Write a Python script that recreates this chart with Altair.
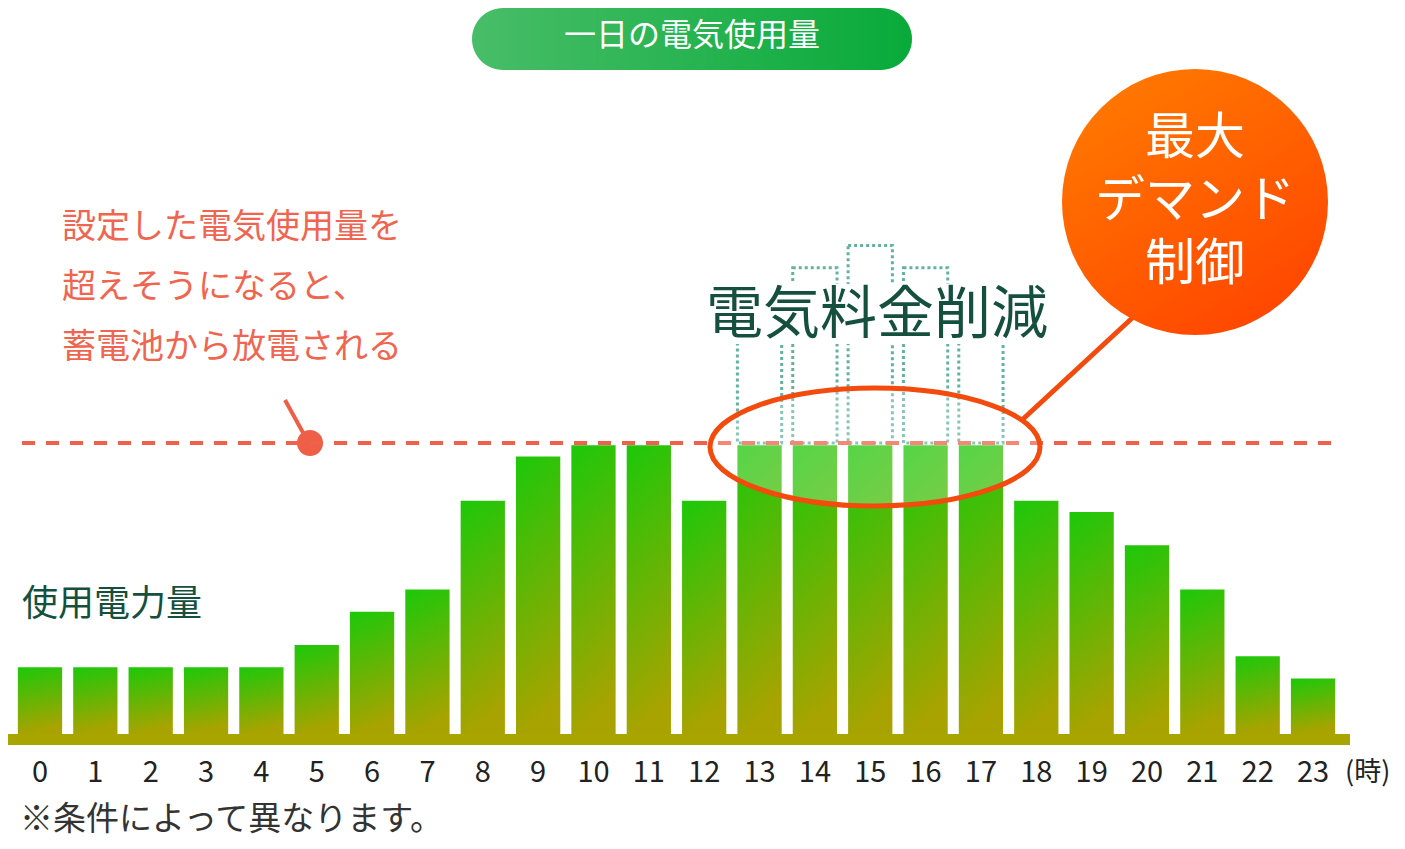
import pandas as pd
import altair as alt

# 時間帯ごとの使用電力量（制御後）
hours = list(range(24))
usage = [6, 6, 6, 6, 6, 8, 11, 13, 21, 25, 26, 26, 21, 26, 26, 26, 26, 26, 21, 20, 17, 13, 7, 5]

# 制御しなかった場合のピーク
peak_hours = [13, 14, 15, 16, 17]
peak_usage = [37, 42, 44, 42, 37]
demand_limit = 26.2

title_text = "一日の電気使用量"
note_lines = ["設定した電気使用量を", "超えそうになると、", "蓄電池から放電される"]
badge_lines = ["最大", "デマンド", "制御"]
saving_text = "電気料金削減"
y_label = "使用電力量"
unit_label = "(時)"
footnote = "※条件によって異なります。"

FONT = "Noto Sans CJK JP"
x_scale = alt.Scale(domain=[-0.578, 24.517], nice=False, zero=False)
y_scale = alt.Scale(domain=[-9.65, 65.4], nice=False, zero=False)

df = pd.DataFrame({"hour": hours, "usage": usage})
df_peak = pd.DataFrame({"hour": peak_hours, "peak": peak_usage, "limit": demand_limit})
one = pd.DataFrame({"k": [0]})

bar_fill = alt.LinearGradient(
    gradient="linear",
    stops=[alt.GradientStop(color="#1cc80a", offset=0), alt.GradientStop(color="#a8a300", offset=1)],
    x1=0, x2=0.15, y1=0, y2=1,
)
pill_fill = alt.LinearGradient(
    gradient="linear",
    stops=[alt.GradientStop(color="#48bd68", offset=0), alt.GradientStop(color="#08aa3a", offset=1)],
    x1=0, x2=1, y1=0, y2=0,
)
badge_fill = alt.LinearGradient(
    gradient="linear",
    stops=[alt.GradientStop(color="#ff7a00", offset=0), alt.GradientStop(color="#ff4400", offset=1)],
    x1=0.2, x2=0.8, y1=0, y2=1,
)

base = alt.Chart(df)


def label(text, x, y, size, color, align="left"):
    return alt.Chart(one).mark_text(
        text=text, font=FONT, fontSize=size, color=color, align=align, baseline="middle"
    ).encode(x=alt.value(x), y=alt.value(y))


# title pill
pill = alt.Chart(one).mark_rect(cornerRadius=31, color=pill_fill).encode(
    x=alt.value(464), x2=alt.value(904), y=alt.value(0), y2=alt.value(62)
)
pill_text = label(title_text, 684, 28, 32, "white", "center")

# annotation (left)
notes = [label(t, 54, 220 + 60 * i, 34, "#f0654f") for i, t in enumerate(note_lines)]
pointer = alt.Chart(one).mark_rule(color="#ef5f48", strokeWidth=4).encode(
    x=alt.value(277), x2=alt.value(298), y=alt.value(392), y2=alt.value(430)
)
pointer_dot = alt.Chart(one).mark_circle(size=676, color="#ef5f48", opacity=1).encode(
    x=alt.value(302), y=alt.value(435)
)

# dotted outlines of the uncontrolled peak
peaks = alt.Chart(df_peak).mark_bar(
    fillOpacity=0, stroke="#62b2a0", strokeWidth=3, strokeDash=[3, 3]
).transform_calculate(x0="datum.hour - 0.4", x1="datum.hour + 0.4").encode(
    x=alt.X("x0:Q", scale=x_scale, axis=None), x2="x1:Q",
    y=alt.Y("peak:Q", scale=y_scale, axis=None), y2="limit:Q",
)

saving_bg = alt.Chart(one).mark_rect(color="white").encode(
    x=alt.value(692), x2=alt.value(1047), y=alt.value(276), y2=alt.value(336)
)
saving = label(saving_text, 869, 308, 57, "#15503f", "center")

# usage bars
bars = base.mark_bar(color=bar_fill).transform_calculate(
    x0="datum.hour - 0.4", x1="datum.hour + 0.4"
).encode(
    x=alt.X("x0:Q", scale=x_scale, axis=None), x2="x1:Q",
    y=alt.Y("usage:Q", scale=y_scale, axis=None), y2=alt.datum(0),
)

baseline = alt.Chart(one).mark_rect(color="#a9a500").encode(
    x=alt.value(0), x2=alt.value(1342),
    y=alt.Y(datum=0, scale=y_scale, axis=None), y2=alt.datum(-1),
)

limit_line = alt.Chart(one).mark_rule(color="#f0604a", strokeWidth=4, strokeDash=[13, 11]).encode(
    x=alt.value(14), x2=alt.value(1327), y=alt.Y(datum=demand_limit, scale=y_scale, axis=None)
)

ellipse_path = "M-1,0 A1,0.3576 0 1,1 1,0 A1,0.3576 0 1,1 -1,0 Z"
ellipse = alt.Chart(one).mark_point(
    shape=ellipse_path, size=108900, fill="#ffffff", fillOpacity=0.25,
    stroke="#f24b0d", strokeWidth=5, strokeOpacity=1, opacity=1,
).encode(x=alt.value(867), y=alt.value(439))

connector = alt.Chart(one).mark_rule(color="#f24b0d", strokeWidth=5).encode(
    x=alt.value(1014), x2=alt.value(1135), y=alt.value(412), y2=alt.value(300)
)
badge = alt.Chart(one).mark_circle(size=70756, color=badge_fill, opacity=1).encode(
    x=alt.value(1187), y=alt.value(194)
)
badge_texts = [label(t, 1187, 131 + 63 * i, 50, "white", "center") for i, t in enumerate(badge_lines)]

# labels
hour_labels = base.mark_text(font=FONT, fontSize=29, color="#222222", baseline="middle").encode(
    x=alt.X("hour:Q", scale=x_scale, axis=None), y=alt.value(765), text="hour:N"
)
unit = label(unit_label, 1337, 765, 27, "#222222")
usage_label = label(y_label, 14, 597, 36, "#15503f")
note_bottom = label(footnote, 12, 812, 33, "#333333")

chart = alt.layer(
    pill, pill_text, *notes, pointer, pointer_dot,
    peaks, saving_bg, saving,
    bars, baseline, limit_line, ellipse,
    connector, badge, *badge_texts,
    hour_labels, unit, usage_label, note_bottom,
).properties(
    width=1389, height=833, padding=0, autosize=alt.AutoSizeParams(type="none")
).configure_view(stroke=None)

chart.save("out.html", embed_options={"renderer": "svg", "actions": False})
